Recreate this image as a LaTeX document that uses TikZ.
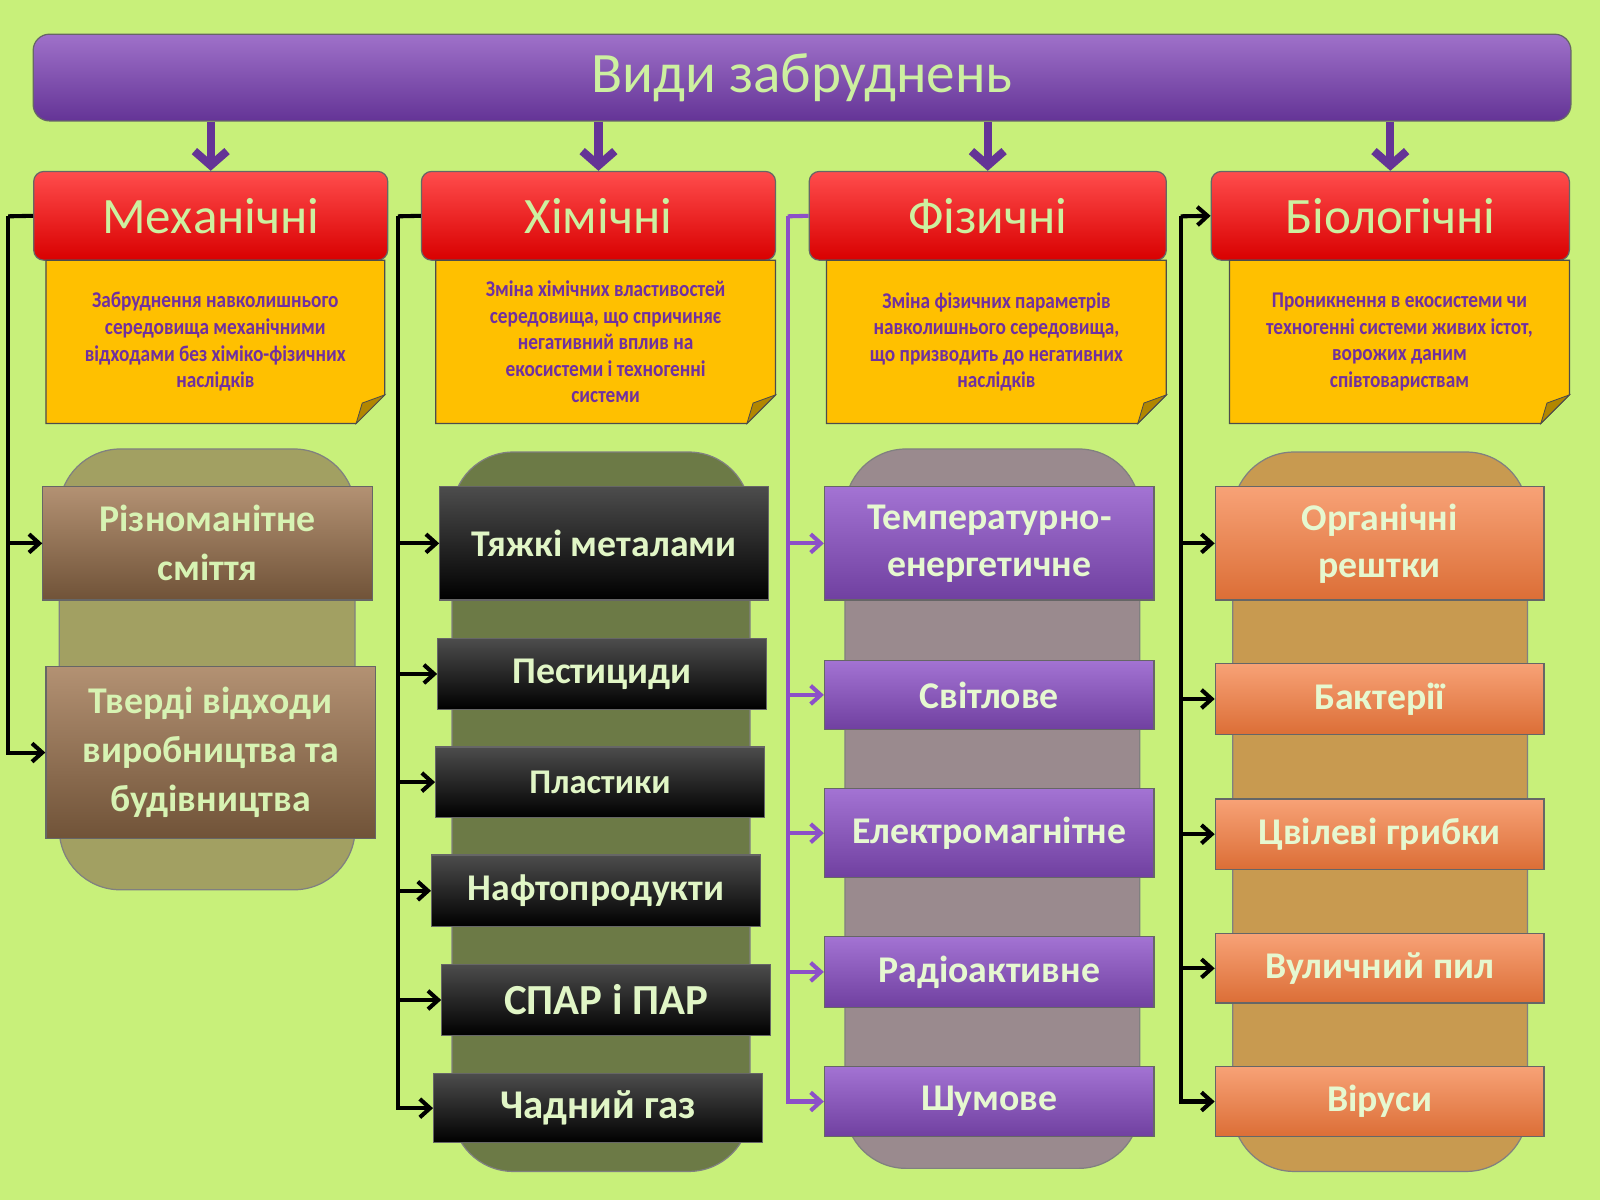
\documentclass[tikz,border=0pt]{standalone}
\usepackage{fontspec}
\setmainfont{Carlito}
\newfontfamily\notefont[FakeStretch=0.86]{Carlito}
\usepackage{tikz}
\usetikzlibrary{arrows.meta,calc}
\definecolor{bgc}{RGB}{200,240,122}
\definecolor{ttl}{RGB}{142,88,192}
\definecolor{ttld}{RGB}{100,52,150}
\definecolor{txtg}{RGB}{205,240,160}
\definecolor{notec}{RGB}{255,192,0}
\definecolor{notet}{RGB}{112,48,160}
\definecolor{itmv}{RGB}{140,80,200}
\definecolor{itmo}{RGB}{244,122,60}
\definecolor{itmb}{RGB}{160,118,80}
\definecolor{colA}{RGB}{162,160,98}
\definecolor{colB}{RGB}{108,122,70}
\definecolor{colC}{RGB}{154,138,142}
\definecolor{colD}{RGB}{200,154,80}
\tikzset{
  box/.style={draw=black!60,line width=0.6pt,inner sep=2pt,align=center,font=\bfseries},
  hdr/.style={box,top color=red!70!white,bottom color=red!85!black,rounded corners=5pt,text=txtg,font=\fontsize{25}{28}\selectfont},
  blk/.style={box,top color=black!70,bottom color=black,text=txtg!60!white,font=\bfseries\fontsize{18.5}{22}\selectfont},
  vio/.style={box,top color=itmv!80!white,bottom color=itmv!80!black,text=txtg!50!white,font=\bfseries\fontsize{18.5}{23}\selectfont},
  org/.style={box,top color=itmo!70!white,bottom color=itmo!90!black,text=txtg!50!white,font=\bfseries\fontsize{18.5}{23}\selectfont},
  brn/.style={box,top color=itmb!80!white,bottom color=itmb!70!black,text=txtg!80!white,font=\bfseries\fontsize{18.5}{24}\selectfont},
  arr/.style={line width=2pt,-{Straight Barb[length=5pt,width=9pt]}},
  pil/.style={rounded corners=30pt,draw=black!50,line width=0.6pt},
}
% box by its corners in px
\newcommand{\bx}[7]{\node[#6,minimum width={(#4-#2)*0.5pt},minimum height={(#5-#3)*0.5pt}] (#1) at ({(#2+#4)/2},{(#3+#5)/2}) {#7};}
\newcommand{\note}[6]{%
  \fill[notec,draw=black!70,line width=0.6pt] (#2,#3) -- (#4,#3) -- (#4,#5-28) -- (#4-28,#5) -- (#2,#5) -- cycle;
  \fill[notec!70!black,draw=black!70] (#4,#5-28) -- (#4-22,#5-20) -- (#4-28,#5) -- cycle;
  \node[text=notet,font=\notefont\bfseries\fontsize{11}{13}\selectfont,align=center] (#1) at ({(#2+#4)/2},{(#3+#5)/2}) {#6};}
\begin{document}
\begin{tikzpicture}[x=0.5pt,y=-0.5pt]
  \fill[bgc] (0,0) rectangle (1568,1176);
  \useasboundingbox (0,0) rectangle (1568,1176);
  % title
  \node[box,rounded corners=8pt,top color=ttl!85!white,bottom color=ttld,text=txtg,font=\fontsize{28}{32}\selectfont,
        minimum width=753.5pt,minimum height=42.5pt] (title) at (786,76) {Види забруднень};
  % column backgrounds
  \draw[pil,fill=colA] (58,440) rectangle (348,872);
  \draw[pil,fill=colB] (443,443) rectangle (735,1148);
  \draw[pil,fill=colC] (828,440) rectangle (1117,1145);
  \draw[pil,fill=colD] (1208,443) rectangle (1497,1148);
  % headers
  \bx{mech}{33}{168}{380}{255}{hdr}{Механічні}
  \bx{chem}{413}{168}{760}{255}{hdr}{Хімічні}
  \bx{phys}{793}{168}{1143}{255}{hdr}{Фізичні}
  \bx{bio}{1187}{168}{1538}{255}{hdr}{Біологічні}
  \foreach \h in {mech,chem,phys,bio}
    \draw[line width=4pt,ttld,-{Straight Barb[length=7pt,width=16pt]}] (title.south-|\h) -- (\h.north);
  % notes
  \note{nA}{45}{255}{377}{415}{Забруднення  навколишнього\\середовища механічними\\відходами без хіміко-фізичних\\наслідків}
  \note{nB}{427}{255}{760}{415}{Зміна хімічних властивостей\\середовища, що спричиняє\\негативний вплив на\\екосистеми і техногенні\\системи}
  \note{nC}{810}{255}{1143}{415}{Зміна фізичних параметрів\\навколишнього середовища,\\що призводить до негативних\\наслідків}
  \note{nD}{1205}{255}{1538}{415}{Проникнення в екосистеми чи\\техногенні  системи живих істот,\\ворожих даним\\співтовариствам}
  % mechanical
  \bx{a1}{42}{477}{365}{588}{brn}{Різноманітне\\сміття}
  \bx{a2}{45}{653}{368}{822}{brn}{Тверді відходи\\виробництва та\\будівництва}
  % chemical
  \bx{b1}{431}{477}{753}{588}{blk}{Тяжкі металами}
  \bx{b2}{429}{626}{751}{695}{blk}{Пестициди}
  \bx{b3}{427}{732}{749}{801}{blk,font=\bfseries\fontsize{17}{20}\selectfont}{Пластики}
  \bx{b4}{423}{838}{745}{908}{blk}{Нафтопродукти}
  \bx{b5}{433}{945}{755}{1015}{blk,font=\bfseries\fontsize{21}{22}\selectfont}{СПАР і ПАР}
  \bx{b6}{425}{1052}{747}{1120}{blk,font=\bfseries\fontsize{20}{22}\selectfont}{Чадний газ}
  % physical
  \bx{c1}{808}{477}{1131}{588}{vio}{Температурно-\\енергетичне}
  \bx{c2}{808}{647}{1131}{715}{vio}{Світлове}
  \bx{c3}{808}{773}{1131}{860}{vio}{Електромагнітне}
  \bx{c4}{808}{918}{1131}{987}{vio}{Радіоактивне}
  \bx{c5}{808}{1045}{1131}{1114}{vio}{Шумове}
  % biological
  \bx{d1}{1191}{477}{1513}{588}{org}{Органічні\\рештки}
  \bx{d2}{1191}{650}{1513}{720}{org}{Бактерії}
  \bx{d3}{1191}{783}{1513}{852}{org}{Цвілеві грибки}
  \bx{d4}{1191}{915}{1513}{983}{org}{Вуличний пил}
  \bx{d5}{1191}{1045}{1513}{1114}{org}{Віруси}
  % connectors
  \coordinate (lA) at (8,212);
  \coordinate (lB) at (390,212);
  \coordinate (lC) at (772,212);
  \coordinate (lD) at (1157,212);
  \draw[line width=2pt] (mech.west) -- (lA);
  \foreach \i in {a1,a2} \draw[arr] (lA) |- (\i.west);
  \draw[line width=2pt] (chem.west) -- (lB);
  \foreach \i in {b1,b2,b3,b4,b5,b6} \draw[arr] (lB) |- (\i.west);
  \draw[line width=2pt,itmv] (phys.west) -- (lC);
  \foreach \i in {c1,c2,c3,c4,c5} \draw[arr,itmv] (lC) |- (\i.west);
  \draw[arr] (lD) -- (bio.west);
  \foreach \i in {d1,d2,d3,d4,d5} \draw[arr] (lD) |- (\i.west);
\end{tikzpicture}
\end{document}
